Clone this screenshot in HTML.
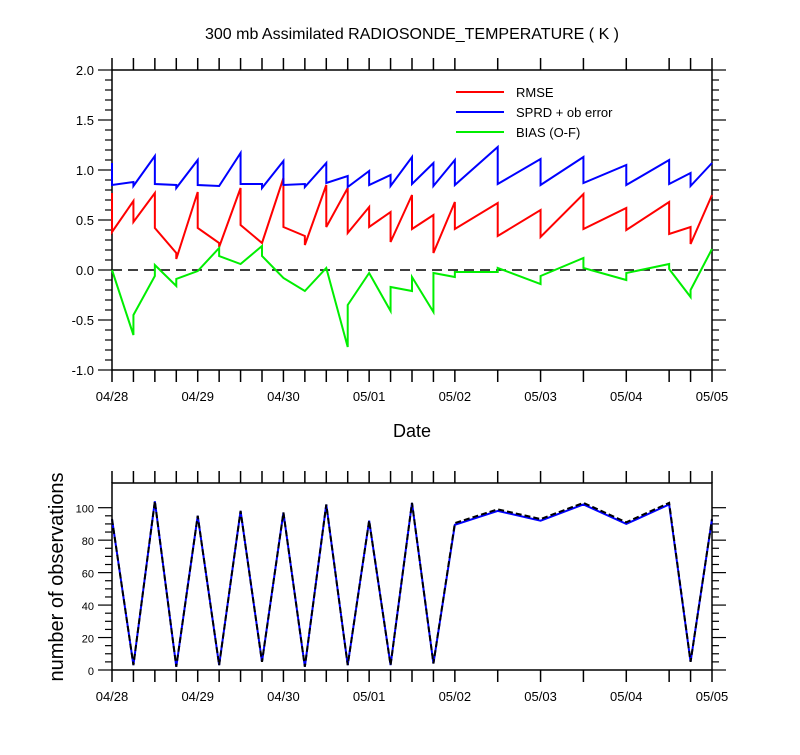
<!DOCTYPE html>
<html><head><meta charset="utf-8"><style>
body{margin:0;background:#fff;}
svg{font-family:"Liberation Sans",Arial,sans-serif;}
</style></head><body>
<svg id="c" width="800" height="750" xmlns="http://www.w3.org/2000/svg">
<text x="412" y="39" text-anchor="middle" font-size="16">300 mb Assimilated RADIOSONDE_TEMPERATURE ( K )</text>
<text x="412" y="437" text-anchor="middle" font-size="18">Date</text>
<text transform="translate(63,577) rotate(-90)" text-anchor="middle" font-size="20">number of observations</text>
<g id="topPanel"></g>
<g id="botPanel"></g>
</svg>
<script>
// times in hours since 04/28 00Z
const rmseT=[0,0,6,6,12,12,18,18,24,24,30,30,36,36,42,48,48,54,54,60,60,66,66,72,72,78,78,84,84,90,90,96,96,108,108,120,120,132,132,144,144,156,156,162,162,168];
const rmseV=[0.77,0.38,0.69,0.48,0.77,0.42,0.17,0.11,0.78,0.42,0.27,0.23,0.82,0.45,0.27,0.92,0.43,0.34,0.25,0.85,0.43,0.82,0.37,0.63,0.43,0.58,0.28,0.75,0.41,0.55,0.17,0.68,0.41,0.67,0.34,0.60,0.33,0.76,0.41,0.62,0.40,0.68,0.36,0.43,0.26,0.75];
const sprdT=[0,0,6,6,12,12,18,18,24,24,30,36,36,42,42,48,48,54,54,60,60,66,66,72,72,78,78,84,84,90,90,96,96,108,108,120,120,132,132,144,144,156,156,162,162,168];
const sprdV=[1.07,0.85,0.88,0.84,1.14,0.86,0.85,0.82,1.10,0.85,0.84,1.17,0.86,0.86,0.82,1.09,0.85,0.86,0.83,1.07,0.87,0.94,0.83,0.99,0.85,0.95,0.84,1.13,0.86,1.07,0.84,1.10,0.85,1.23,0.86,1.11,0.85,1.13,0.87,1.05,0.85,1.10,0.86,0.97,0.84,1.07];
const biasT=[0,6,6,12,12,18,18,24,30,30,36,42,42,48,54,60,66,66,72,78,78,84,84,90,90,96,96,108,108,120,120,132,132,144,144,156,156,162,162,168];
const biasV=[0.0,-0.65,-0.45,-0.06,0.05,-0.16,-0.09,-0.01,0.22,0.14,0.06,0.24,0.14,-0.08,-0.21,0.02,-0.77,-0.35,-0.03,-0.41,-0.17,-0.21,-0.07,-0.42,-0.03,-0.07,-0.02,-0.02,0.02,-0.14,-0.06,0.12,0.02,-0.10,-0.03,0.06,0.01,-0.27,-0.20,0.21];
const obsT=[0,6,12,18,24,30,36,42,48,54,60,66,72,78,84,90,96,108,120,132,144,156,162,168];
const obsUsed=[93,3,104,2,95,3,98,5,97,2,102,3,92,3,103,4,89.5,98,92,102,90,102,5,93];
const obsTotal=[93,3,104,2,95,3,98,5,97,2,102,3,92,3,103,4,90.5,99,93,103,91,103,5,93];
const dateLabels=["04/28","04/29","04/30","05/01","05/02","05/03","05/04","05/05"];
const topTicks=[-1.0,-0.5,0.0,0.5,1.0,1.5,2.0];
const botTicks=[0,20,40,60,80,100];

const NS="http://www.w3.org/2000/svg";
const X0=112,X1=712;
const xs=t=>X0+(X1-X0)*t/168;
const yTop=v=>270-100*v;
const yBot=v=>670-1.623*v;
function mk(tag,attrs,parent){const e=document.createElementNS(NS,tag);for(const k in attrs)e.setAttribute(k,attrs[k]);parent.appendChild(e);return e;}
const topG=document.getElementById('topPanel'),botG=document.getElementById('botPanel');

function frame(g,yT,yB,name){
  const r=mk('rect',{x:X0,y:yT,width:X1-X0,height:yB-yT,fill:'none',stroke:'#000','stroke-width':1.5},g);
  
  
  obsT.forEach(t=>{
    const a=mk('line',{x1:xs(t),x2:xs(t),y1:yT-12,y2:yT,stroke:'#000','stroke-width':1.5},g);
    
    
    const b=mk('line',{x1:xs(t),x2:xs(t),y1:yB,y2:yB+12,stroke:'#000','stroke-width':1.5},g);
    
    
  });
  dateLabels.forEach((d,i)=>{
    const tx=mk('text',{x:xs(i*24),y:yB+31,'text-anchor':'middle','font-size':13},g);
    tx.textContent=d;
    
    
  });
}
function yAxis(g,ticks,yf,minorStep,fmt,fs,majorStep){
  const lo=ticks[0],hi=ticks[ticks.length-1];
  const n=Math.round((hi-lo)/minorStep);
  for(let i=0;i<=n;i++){
    const v=lo+i*minorStep;
    const y=yf(v);
    const isMaj=Math.abs(Math.round(v/majorStep)*majorStep-v)<1e-6;
    const L=isMaj?14:7;
    mk('line',{x1:X0-L,x2:X0,y1:y,y2:y,stroke:'#000','stroke-width':1.2},g);
    mk('line',{x1:X1,x2:X1+L,y1:y,y2:y,stroke:'#000','stroke-width':1.2},g);
  }
  ticks.forEach(v=>{
    const tx=mk('text',{x:X0-18,y:yf(v)+5,'text-anchor':'end','font-size':fs},g);
    tx.textContent=fmt(v);
    
    
  });
}
function series(g,T,V,yf,color,name,dash){
  const p=mk('polyline',{points:T.map((t,i)=>xs(t)+','+yf(V[i])).join(' '),fill:'none',stroke:color,'stroke-width':2,'stroke-linejoin':'miter'},g);
  if(dash)p.setAttribute('stroke-dasharray',dash);
  
  
}
// top panel
frame(topG,70,370,'top-plot-frame');
yAxis(topG,topTicks,yTop,0.1,v=>v.toFixed(1),13,0.5);
const z=mk('line',{x1:X0,x2:X1,y1:yTop(0),y2:yTop(0),stroke:'#000','stroke-width':1.5,'stroke-dasharray':'10,6'},topG);


series(topG,rmseT,rmseV,yTop,'#ff0000','rmse-line');
series(topG,sprdT,sprdV,yTop,'#0000ff','sprd-line');
series(topG,biasT,biasV,yTop,'#00ee00','bias-line');
[['RMSE','#ff0000',92],['SPRD + ob error','#0000ff',112],['BIAS (O-F)','#00ee00',132]].forEach(l=>{
  const g=mk('g',{},topG);
  
  
  mk('line',{x1:456,x2:504,y1:l[2],y2:l[2],stroke:l[1],'stroke-width':2},g);
  const t=mk('text',{x:516,y:l[2]+5,'font-size':13},g);t.textContent=l[0];
});
// bottom panel
frame(botG,483,670,'bottom-plot-frame');
yAxis(botG,botTicks,yBot,5,v=>String(v),11,20);
series(botG,obsT,obsUsed,yBot,'#0000ff','obs-used-line');
series(botG,obsT,obsTotal,yBot,'#000','obs-total-line','6,3');
</script>
</body></html>
